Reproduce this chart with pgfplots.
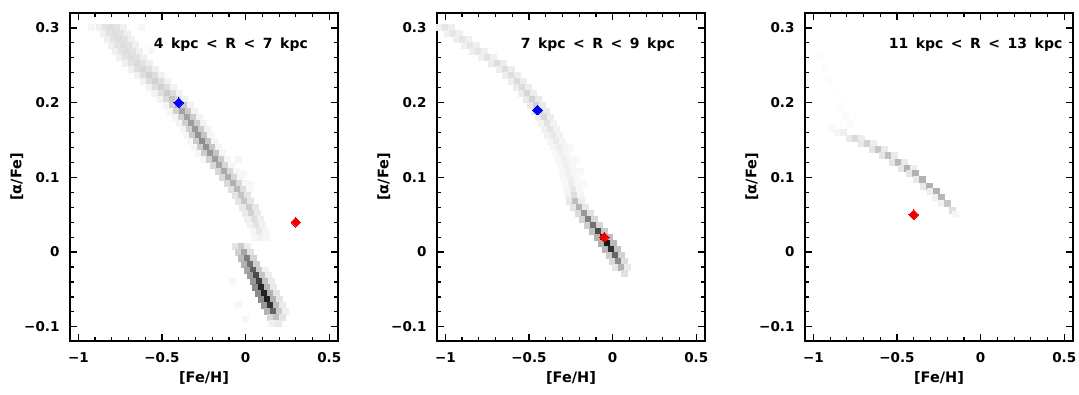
\documentclass[border=0pt]{standalone}
\usepackage{fontspec}
\setmainfont{DejaVu Sans}
\usepackage{pgfplots}
\pgfplotsset{compat=1.18}
\pgfplotsset{
  panel/.style={
    scale only axis, width=268pt, height=328pt,
    xmin=-1.05, xmax=0.552, ymin=-0.119, ymax=0.32,
    axis on top,
    axis line style={line width=1.8pt},
    tick style={line width=1.2pt, black},
    tick align=inside, major tick length=7pt, minor tick length=4pt,
    xtick={-1,-0.5,0,0.5}, xticklabels={−1,−0.5,0,0.5},
    ytick={-0.1,0,0.1,0.2,0.3}, yticklabels={−0.1,0,0.1,0.2,0.3},
    minor x tick num=4, minor y tick num=4,
    ticklabel style={font=\bfseries\fontsize{13.5}{15}\selectfont},
    xticklabel style={yshift=-8pt},
    yticklabel style={xshift=-7pt},
    label style={font=\bfseries\fontsize{14.5}{16}\selectfont},
    xlabel={[Fe/H]}, ylabel={[α/Fe]},
    xlabel style={at={(axis description cs:0.5,-0.113)}, anchor=center},
    ylabel style={at={(axis description cs:-0.198,0.5)}, anchor=center},
    colormap={bw}{rgb255=(255,255,255) rgb255=(0,0,0)},
    point meta min=0, point meta max=1,
  },
  cells/.style={scatter, only marks, mark=square*, mark size=3pt,
    scatter/use mapped color={draw=mapped color, fill=mapped color},
    mark options={line width=0pt}},
  dia/.style={scatter=false, point meta=none, only marks, color=#1,
    mark=square*, mark size=3.4pt,
    mark options={rotate=45, draw=#1, fill=#1, line width=0pt, solid}},
}
\definecolor{dblue}{RGB}{0,0,255}
\definecolor{dred}{RGB}{240,0,0}
\tikzset{ttl/.style={anchor=west, inner sep=0pt, font=\bfseries\fontsize{14}{16}\selectfont}}
\newcommand{\tsp}{\hspace{7.5pt}}
% cell tables: x y darkness
\pgfplotstableread[row sep=\\]{
x y c\\
-0.872 0.300 0.06\\ -0.836 0.300 0.11\\ -0.800 0.300 0.13\\ -0.764 0.300 0.11\\ -0.728 0.300 0.06\\
-0.852 0.292 0.06\\ -0.816 0.292 0.11\\ -0.780 0.292 0.13\\ -0.744 0.292 0.11\\ -0.708 0.292 0.06\\
-0.827 0.284 0.06\\ -0.791 0.284 0.11\\ -0.755 0.284 0.13\\ -0.719 0.284 0.11\\ -0.683 0.284 0.06\\
-0.802 0.276 0.06\\ -0.766 0.276 0.11\\ -0.730 0.276 0.13\\ -0.694 0.276 0.11\\ -0.658 0.276 0.06\\
-0.777 0.268 0.06\\ -0.741 0.268 0.11\\ -0.705 0.268 0.13\\ -0.669 0.268 0.11\\ -0.633 0.268 0.06\\
-0.752 0.260 0.06\\ -0.716 0.260 0.11\\ -0.680 0.260 0.13\\ -0.644 0.260 0.11\\ -0.608 0.260 0.06\\
-0.717 0.252 0.06\\ -0.681 0.252 0.11\\ -0.645 0.252 0.14\\ -0.609 0.252 0.11\\ -0.573 0.252 0.06\\
-0.682 0.244 0.06\\ -0.646 0.244 0.12\\ -0.610 0.244 0.15\\ -0.574 0.244 0.12\\ -0.538 0.244 0.06\\
-0.647 0.236 0.05\\ -0.611 0.236 0.13\\ -0.575 0.236 0.18\\ -0.539 0.236 0.13\\ -0.503 0.236 0.05\\
-0.612 0.228 0.05\\ -0.576 0.228 0.13\\ -0.540 0.228 0.18\\ -0.504 0.228 0.13\\ -0.468 0.228 0.05\\
-0.577 0.220 0.05\\ -0.541 0.220 0.13\\ -0.505 0.220 0.18\\ -0.469 0.220 0.13\\ -0.433 0.220 0.05\\
-0.542 0.212 0.05\\ -0.506 0.212 0.13\\ -0.470 0.212 0.20\\ -0.434 0.212 0.13\\ -0.398 0.212 0.05\\
-0.507 0.204 0.05\\ -0.471 0.204 0.14\\ -0.435 0.204 0.22\\ -0.399 0.204 0.14\\ -0.363 0.204 0.05\\
-0.472 0.196 0.04\\ -0.436 0.196 0.18\\ -0.400 0.196 0.33\\ -0.364 0.196 0.20\\ -0.328 0.196 0.05\\
-0.447 0.188 0.04\\ -0.411 0.188 0.18\\ -0.375 0.188 0.35\\ -0.339 0.188 0.20\\ -0.303 0.188 0.05\\
-0.422 0.180 0.04\\ -0.386 0.180 0.18\\ -0.350 0.180 0.36\\ -0.314 0.180 0.20\\ -0.278 0.180 0.05\\
-0.397 0.172 0.04\\ -0.361 0.172 0.18\\ -0.325 0.172 0.38\\ -0.289 0.172 0.20\\ -0.253 0.172 0.05\\
-0.372 0.164 0.04\\ -0.336 0.164 0.18\\ -0.300 0.164 0.40\\ -0.264 0.164 0.20\\ -0.228 0.164 0.05\\
-0.352 0.156 0.03\\ -0.316 0.156 0.20\\ -0.280 0.156 0.42\\ -0.244 0.156 0.22\\ -0.208 0.156 0.04\\
-0.332 0.148 0.03\\ -0.296 0.148 0.20\\ -0.260 0.148 0.44\\ -0.224 0.148 0.22\\ -0.188 0.148 0.04\\
-0.307 0.140 0.03\\ -0.271 0.140 0.20\\ -0.235 0.140 0.42\\ -0.199 0.140 0.22\\ -0.163 0.140 0.04\\
-0.282 0.132 0.03\\ -0.246 0.132 0.20\\ -0.210 0.132 0.40\\ -0.174 0.132 0.22\\ -0.138 0.132 0.04\\
-0.252 0.124 0.03\\ -0.216 0.124 0.18\\ -0.180 0.124 0.38\\ -0.144 0.124 0.20\\ -0.108 0.124 0.04\\
-0.191 0.116 0.15\\ -0.155 0.116 0.34\\ -0.119 0.116 0.16\\ -0.083 0.116 0.03\\
-0.161 0.108 0.15\\ -0.125 0.108 0.33\\ -0.089 0.108 0.15\\ -0.053 0.108 0.03\\
-0.136 0.100 0.14\\ -0.100 0.100 0.32\\ -0.064 0.100 0.15\\ -0.028 0.100 0.03\\
-0.111 0.092 0.14\\ -0.075 0.092 0.30\\ -0.039 0.092 0.14\\ -0.003 0.092 0.03\\
-0.086 0.084 0.12\\ -0.050 0.084 0.27\\ -0.014 0.084 0.13\\ 0.022 0.084 0.03\\
-0.061 0.076 0.10\\ -0.025 0.076 0.23\\ 0.011 0.076 0.10\\
-0.041 0.068 0.10\\ -0.005 0.068 0.22\\ 0.031 0.068 0.10\\
-0.016 0.060 0.09\\ 0.020 0.060 0.20\\ 0.056 0.060 0.09\\
-0.001 0.052 0.08\\ 0.035 0.052 0.17\\ 0.071 0.052 0.08\\
0.014 0.044 0.06\\ 0.050 0.044 0.13\\ 0.086 0.044 0.06\\
0.029 0.036 0.05\\ 0.065 0.036 0.11\\ 0.101 0.036 0.05\\
0.044 0.028 0.04\\ 0.080 0.028 0.09\\ 0.116 0.028 0.04\\
0.054 0.020 0.03\\ 0.090 0.020 0.06\\ 0.126 0.020 0.03\\
-0.040 0.124 0.04\\ -0.010 0.104 0.03\\ 0.030 0.090 0.03\\ -0.620 0.300 0.03\\
-0.920 0.300 0.03\\ -0.560 0.270 0.03\\
-0.061 0.008 0.10\\ -0.025 0.008 0.20\\ 0.011 0.008 0.07\\
-0.044 0.000 0.18\\ -0.008 0.000 0.35\\ 0.028 0.000 0.12\\
-0.026 -0.008 0.27\\ 0.010 -0.008 0.50\\ 0.046 -0.008 0.17\\
-0.009 -0.016 0.30\\ 0.027 -0.016 0.55\\ 0.063 -0.016 0.19\\
0.009 -0.024 0.34\\ 0.045 -0.024 0.62\\ 0.081 -0.024 0.20\\ 0.117 -0.024 0.05\\
0.026 -0.032 0.38\\ 0.062 -0.032 0.70\\ 0.098 -0.032 0.22\\ 0.134 -0.032 0.07\\
0.044 -0.040 0.40\\ 0.080 -0.040 0.75\\ 0.116 -0.040 0.25\\ 0.152 -0.040 0.08\\
0.061 -0.048 0.45\\ 0.097 -0.048 0.85\\ 0.133 -0.048 0.28\\ 0.169 -0.048 0.08\\
0.079 -0.056 0.45\\ 0.115 -0.056 0.87\\ 0.151 -0.056 0.30\\ 0.187 -0.056 0.10\\
0.096 -0.064 0.45\\ 0.132 -0.064 0.87\\ 0.168 -0.064 0.30\\ 0.204 -0.064 0.10\\
0.114 -0.072 0.40\\ 0.150 -0.072 0.80\\ 0.186 -0.072 0.25\\ 0.222 -0.072 0.08\\
0.131 -0.080 0.30\\ 0.167 -0.080 0.60\\ 0.203 -0.080 0.20\\ 0.239 -0.080 0.06\\
0.149 -0.088 0.15\\ 0.185 -0.088 0.25\\ 0.221 -0.088 0.10\\
0.160 -0.096 0.06\\ 0.196 -0.096 0.08\\
-0.080 -0.040 0.03\\ -0.040 -0.070 0.03\\ 0.000 -0.090 0.03\\
}\cellsA
\pgfplotstableread[row sep=\\]{
x y c\\
-1.036 0.300 0.06\\ -1.000 0.300 0.10\\ -0.964 0.300 0.06\\
-0.986 0.292 0.06\\ -0.950 0.292 0.10\\ -0.914 0.292 0.06\\
-0.936 0.284 0.06\\ -0.900 0.284 0.10\\ -0.864 0.284 0.06\\
-0.886 0.276 0.06\\ -0.850 0.276 0.10\\ -0.814 0.276 0.06\\
-0.836 0.268 0.06\\ -0.800 0.268 0.10\\ -0.764 0.268 0.06\\
-0.786 0.260 0.06\\ -0.750 0.260 0.11\\ -0.714 0.260 0.06\\
-0.726 0.252 0.07\\ -0.690 0.252 0.13\\ -0.654 0.252 0.07\\
-0.676 0.244 0.07\\ -0.640 0.244 0.13\\ -0.604 0.244 0.07\\
-0.641 0.236 0.07\\ -0.605 0.236 0.13\\ -0.569 0.236 0.07\\
-0.606 0.228 0.07\\ -0.570 0.228 0.14\\ -0.534 0.228 0.07\\
-0.576 0.220 0.07\\ -0.540 0.220 0.14\\ -0.504 0.220 0.07\\
-0.546 0.212 0.07\\ -0.510 0.212 0.15\\ -0.474 0.212 0.07\\
-0.516 0.204 0.08\\ -0.480 0.204 0.17\\ -0.444 0.204 0.08\\
-0.491 0.196 0.08\\ -0.455 0.196 0.18\\ -0.419 0.196 0.08\\
-0.466 0.188 0.08\\ -0.430 0.188 0.18\\ -0.394 0.188 0.08\\
-0.446 0.180 0.07\\ -0.410 0.180 0.15\\ -0.374 0.180 0.07\\
-0.426 0.172 0.05\\ -0.390 0.172 0.11\\ -0.354 0.172 0.05\\
-0.406 0.164 0.05\\ -0.370 0.164 0.10\\ -0.334 0.164 0.05\\
-0.391 0.156 0.05\\ -0.355 0.156 0.09\\ -0.319 0.156 0.05\\
-0.371 0.148 0.04\\ -0.335 0.148 0.08\\ -0.299 0.148 0.04\\
-0.356 0.140 0.04\\ -0.320 0.140 0.07\\ -0.284 0.140 0.04\\
-0.341 0.132 0.03\\ -0.305 0.132 0.06\\ -0.269 0.132 0.03\\
-0.326 0.124 0.03\\ -0.290 0.124 0.06\\ -0.254 0.124 0.03\\
-0.313 0.116 0.03\\ -0.277 0.116 0.06\\ -0.241 0.116 0.03\\
-0.301 0.108 0.03\\ -0.265 0.108 0.06\\ -0.229 0.108 0.03\\
-0.291 0.100 0.03\\ -0.255 0.100 0.06\\ -0.219 0.100 0.03\\
-0.281 0.092 0.03\\ -0.245 0.092 0.07\\ -0.209 0.092 0.03\\
-0.271 0.084 0.04\\ -0.235 0.084 0.09\\ -0.199 0.084 0.03\\
-0.264 0.076 0.05\\ -0.228 0.076 0.13\\ -0.192 0.076 0.04\\
-0.250 0.140 0.03\\ -0.215 0.124 0.03\\ -0.195 0.108 0.03\\ -0.175 0.092 0.03\\
-0.258 0.068 0.09\\ -0.222 0.068 0.25\\ -0.186 0.068 0.07\\
-0.233 0.060 0.10\\ -0.197 0.060 0.30\\ -0.161 0.060 0.09\\
-0.204 0.052 0.14\\ -0.168 0.052 0.40\\ -0.132 0.052 0.12\\
-0.178 0.044 0.17\\ -0.142 0.044 0.50\\ -0.106 0.044 0.15\\
-0.149 0.036 0.19\\ -0.113 0.036 0.55\\ -0.077 0.036 0.16\\
-0.121 0.028 0.24\\ -0.085 0.028 0.70\\ -0.049 0.028 0.21\\
-0.091 0.020 0.30\\ -0.055 0.020 0.85\\ -0.019 0.020 0.25\\
-0.066 0.012 0.30\\ -0.030 0.012 0.90\\ 0.006 0.012 0.27\\
-0.041 0.004 0.28\\ -0.005 0.004 0.80\\ 0.031 0.004 0.24\\
-0.021 -0.004 0.20\\ 0.015 -0.004 0.60\\ 0.051 -0.004 0.18\\
-0.001 -0.012 0.15\\ 0.035 -0.012 0.45\\ 0.071 -0.012 0.13\\
0.019 -0.020 0.10\\ 0.055 -0.020 0.30\\ 0.091 -0.020 0.08\\
0.070 -0.028 0.12\\
}\cellsB
\pgfplotstableread[row sep=\\]{
x y c\\
-0.960 0.262 0.012\\ -0.930 0.246 0.012\\ -0.900 0.230 0.012\\ -0.870 0.214 0.012\\
-0.840 0.198 0.012\\ -0.810 0.182 0.015\\ -0.780 0.172 0.015\\
-0.890 0.166 0.03\\ -0.856 0.160 0.04\\ -0.820 0.160 0.06\\
-0.782 0.152 0.08\\ -0.746 0.152 0.14\\ -0.710 0.152 0.07\\
-0.713 0.145 0.09\\ -0.677 0.145 0.18\\ -0.641 0.145 0.07\\
-0.644 0.137 0.10\\ -0.608 0.137 0.22\\ -0.572 0.137 0.08\\
-0.585 0.129 0.10\\ -0.549 0.129 0.25\\ -0.513 0.129 0.08\\
-0.529 0.120 0.10\\ -0.493 0.120 0.28\\ -0.457 0.120 0.08\\
-0.476 0.112 0.10\\ -0.440 0.112 0.30\\ -0.404 0.112 0.07\\
-0.426 0.105 0.10\\ -0.390 0.105 0.30\\
-0.383 0.097 0.08\\ -0.347 0.097 0.30\\
-0.341 0.088 0.08\\ -0.305 0.088 0.30\\
-0.301 0.081 0.07\\ -0.265 0.081 0.30\\
-0.268 0.073 0.06\\ -0.232 0.073 0.28\\
-0.234 0.065 0.05\\ -0.198 0.065 0.22\\
-0.169 0.056 0.12\\ -0.150 0.050 0.04\\
}\cellsC
\begin{document}
\begin{tikzpicture}
\useasboundingbox (0,0) rectangle (1079pt,395pt);
% ---------------- Panel 1: 4 < R < 7 kpc
\begin{axis}[panel, at={(70pt,54pt)}, anchor=south west]
\addplot[cells, point meta=\thisrow{c}] table[x=x, y=y] {\cellsA};
\addplot[dia=dblue] coordinates {(-0.40,0.20)};
\addplot[dia=dred] coordinates {(0.30,0.04)};
\node[ttl] at (axis cs:-0.55,0.277) {4\tsp kpc\tsp <\tsp R\tsp <\tsp 7\tsp kpc};
\end{axis}
% ---------------- Panel 2: 7 < R < 9 kpc
\begin{axis}[panel, at={(437pt,54pt)}, anchor=south west]
\addplot[cells, point meta=\thisrow{c}] table[x=x, y=y] {\cellsB};
\addplot[dia=dblue] coordinates {(-0.45,0.19)};
\addplot[dia=dred] coordinates {(-0.05,0.02)};
\node[ttl] at (axis cs:-0.55,0.277) {7\tsp kpc\tsp <\tsp R\tsp <\tsp 9\tsp kpc};
\end{axis}
% ---------------- Panel 3: 11 < R < 13 kpc
\begin{axis}[panel, at={(805pt,54pt)}, anchor=south west]
\addplot[cells, point meta=\thisrow{c}] table[x=x, y=y] {\cellsC};
\addplot[dia=dred] coordinates {(-0.40,0.05)};
\node[ttl] at (axis cs:-0.55,0.277) {11\tsp kpc\tsp <\tsp R\tsp <\tsp 13\tsp kpc};
\end{axis}
\end{tikzpicture}
\end{document}
